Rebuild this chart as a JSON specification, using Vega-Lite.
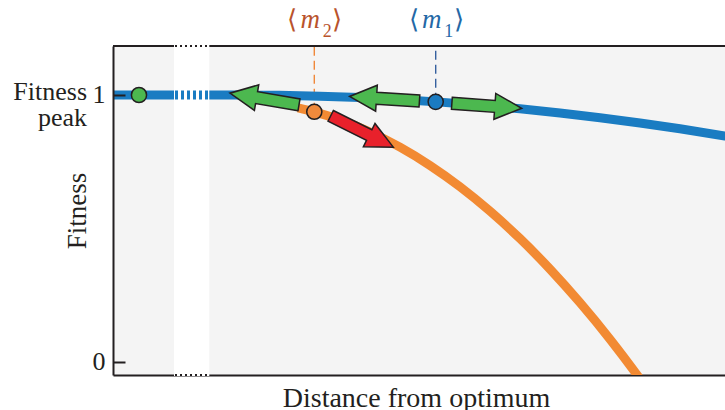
{
  "$schema": "https://vega.github.io/schema/vega-lite/v6.json",
  "width": 612,
  "height": 329,
  "autosize": {"type": "none"},
  "padding": {"left": 113, "top": 46, "right": 0, "bottom": 35},
  "background": "white",
  "config": {
    "view": {"fill": "#f4f4f4", "stroke": null},
    "font": "'Liberation Serif', 'Times New Roman', serif",
    "text": {"font": "'Liberation Serif', 'Times New Roman', serif"}
  },
  "datasets": {
    "blue": [
      {"d": 0, "f": 1}, {"d": 2.0, "f": 1}, {"d": 2.7124, "f": 0.9988},
      {"d": 3.3824, "f": 0.9955}, {"d": 4.0359, "f": 0.9902}, {"d": 4.6895, "f": 0.9828},
      {"d": 5.3431, "f": 0.9733}, {"d": 5.9967, "f": 0.9618}, {"d": 6.6503, "f": 0.9483},
      {"d": 7.3039, "f": 0.9326}, {"d": 7.9575, "f": 0.9149}, {"d": 8.6111, "f": 0.8952},
      {"d": 9.2647, "f": 0.8733}, {"d": 10.0, "f": 0.8463}, {"d": 10.3268, "f": 0.8335}
    ],
    "orange": [
      {"d": 3.0229, "f": 0.9517}, {"d": 3.2892, "f": 0.9371}, {"d": 3.7092, "f": 0.9071},
      {"d": 4.1993, "f": 0.8614}, {"d": 4.6895, "f": 0.8045}, {"d": 5.1797, "f": 0.736},
      {"d": 5.6699, "f": 0.6562}, {"d": 6.1601, "f": 0.5648}, {"d": 6.6503, "f": 0.4622},
      {"d": 7.1405, "f": 0.3479}, {"d": 7.6307, "f": 0.2221}, {"d": 8.1209, "f": 0.0854},
      {"d": 8.6111, "f": -0.0633}, {"d": 8.9379, "f": -0.1685}
    ],
    "band": [{"x1": 1.0131, "x2": 1.5572}],
    "bandline": [{"d": 1.0131, "f": 1}, {"d": 1.5572, "f": 1}],
    "guides": [
      {"name": "m2", "d": 3.2892, "f": 0.9371},
      {"name": "m1", "d": 5.2729, "f": 0.9745}
    ],
    "arrows": [
      {"kind": "green", "d": 2.4755, "f": 0.985, "angle": 189.6},
      {"kind": "green", "d": 4.4363, "f": 0.986, "angle": 183.7},
      {"kind": "green", "d": 6.1078, "f": 0.9596, "angle": 4.1},
      {"kind": "red", "d": 4.0686, "f": 0.8633, "angle": 26.6}
    ],
    "dots": [
      {"kind": "peak", "d": 0.4248, "f": 1},
      {"kind": "m2", "d": 3.2892, "f": 0.9371},
      {"kind": "m1", "d": 5.2729, "f": 0.9745}
    ],
    "labels": [
      {"name": "m2", "d": 3.2892, "sub": "2"},
      {"name": "m1", "d": 5.2729, "sub": "1"}
    ],
    "peak": [{"label": "Fitness\npeak", "d": -0.4248, "f": 1.0105}]
  },
  "resolve": {"scale": {"color": "independent"}},
  "layer": [
    {
      "data": {"name": "guides"},
      "mark": {"type": "rule", "strokeWidth": 1.4, "strokeDash": [9, 5]},
      "encoding": {
        "x": {
          "field": "d", "type": "quantitative",
          "scale": {"domain": [0, 10], "nice": false, "zero": false},
          "axis": {
            "orient": "bottom", "title": "Distance from optimum",
            "domain": true, "domainColor": "#231f20", "domainWidth": 2,
            "ticks": false, "labels": false, "grid": false,
            "titleFont": "'Liberation Serif', 'Times New Roman', serif", "titleFontSize": 28, "titleFontWeight": "normal",
            "titleColor": "#231f20", "titleX": 303, "titleY": 31, "titleBaseline": "alphabetic"
          }
        },
        "y": {
          "field": "f", "type": "quantitative",
          "scale": {"domain": [-0.0487, 1.1835], "nice": false, "zero": false},
          "axis": {
            "values": [0, 1], "format": "d", "title": "Fitness", "grid": false,
            "domain": true, "domainColor": "#231f20", "domainWidth": 2,
            "ticks": true, "tickSize": -12, "tickColor": "#231f20", "tickWidth": 2,
            "labelPadding": 20, "labelFont": "'Liberation Serif', 'Times New Roman', serif", "labelFontSize": 26, "labelColor": "#231f20",
            "titleFont": "'Liberation Serif', 'Times New Roman', serif", "titleFontSize": 27, "titleFontWeight": "normal",
            "titleColor": "#231f20", "titleX": -36, "titleY": 164.5, "titleBaseline": "middle", "titleAngle": -90,
            "zindex": 1
          }
        },
        "y2": {"datum": 1.1835},
        "color": {"field": "name", "type": "nominal", "scale": {"domain": ["m1", "m2"], "range": ["#35609f", "#f0883a"]}, "legend": null}
      }
    },
    {
      "data": {"name": "band"},
      "mark": {"type": "rule", "color": "#231f20", "strokeWidth": 2},
      "encoding": {"y": {"datum": 1.1835, "type": "quantitative"}}
    },
    {
      "data": {"name": "blue"},
      "mark": {"type": "line", "color": "#1a7cc2", "strokeWidth": 9, "interpolate": "monotone", "clip": true},
      "encoding": {
        "x": {"field": "d", "type": "quantitative"},
        "y": {"field": "f", "type": "quantitative"}
      }
    },
    {
      "data": {"name": "orange"},
      "mark": {"type": "line", "color": "#f28a33", "strokeWidth": 9, "interpolate": "monotone", "clip": true},
      "encoding": {
        "x": {"field": "d", "type": "quantitative"},
        "y": {"field": "f", "type": "quantitative"}
      }
    },
    {
      "data": {"name": "band"},
      "mark": {"type": "rect", "fill": "white", "stroke": "white", "strokeWidth": 2},
      "encoding": {
        "x": {"field": "x1", "type": "quantitative"},
        "x2": {"field": "x2"},
        "y": {"datum": -0.0487, "type": "quantitative"},
        "y2": {"datum": 1.1835}
      }
    },
    {
      "data": {"name": "bandline"},
      "mark": {"type": "line", "color": "#1a7cc2", "strokeWidth": 9, "strokeDash": [3, 3]},
      "encoding": {
        "x": {"field": "d", "type": "quantitative"},
        "y": {"field": "f", "type": "quantitative"}
      }
    },
    {
      "data": {"name": "band"},
      "mark": {"type": "rule", "color": "#231f20", "strokeWidth": 2, "strokeDash": [2, 3]},
      "encoding": {
        "x": {"field": "x1", "type": "quantitative"},
        "x2": {"field": "x2"},
        "y": {"datum": 1.1835, "type": "quantitative"}
      }
    },
    {
      "data": {"name": "band"},
      "mark": {"type": "rule", "color": "#231f20", "strokeWidth": 2, "strokeDash": [2, 3]},
      "encoding": {
        "x": {"field": "x1", "type": "quantitative"},
        "x2": {"field": "x2"},
        "y": {"datum": -0.0487, "type": "quantitative"}
      }
    },
    {
      "data": {"name": "arrows"},
      "mark": {
        "type": "point",
        "shape": "M -1 -0.171 L 0.23 -0.171 L 0.23 -0.371 L 1 0 L 0.23 0.371 L 0.23 0.171 L -1 0.171 Z",
        "filled": true, "size": 4900, "opacity": 1,
        "stroke": "#231f20", "strokeWidth": 1.5, "strokeJoin": "miter"
      },
      "encoding": {
        "x": {"field": "d", "type": "quantitative"},
        "y": {"field": "f", "type": "quantitative"},
        "angle": {"field": "angle", "type": "quantitative", "scale": null},
        "color": {"field": "kind", "type": "nominal", "scale": {"domain": ["green", "red"], "range": ["#4cb84f", "#e8212b"]}, "legend": null}
      }
    },
    {
      "data": {"name": "dots"},
      "mark": {"type": "point", "shape": "circle", "filled": true, "size": 230, "opacity": 1, "stroke": "#231f20", "strokeWidth": 1.5},
      "encoding": {
        "x": {"field": "d", "type": "quantitative"},
        "y": {"field": "f", "type": "quantitative"},
        "color": {"field": "kind", "type": "nominal", "scale": {"domain": ["peak", "m2", "m1"], "range": ["#4cb84f", "#f08a3c", "#1b7bc1"]}, "legend": null}
      }
    },
    {
      "data": {"name": "peak"},
      "mark": {"type": "text", "align": "right", "baseline": "middle", "lineBreak": "\n", "lineHeight": 26, "fontSize": 26, "color": "#231f20"},
      "encoding": {
        "x": {"field": "d", "type": "quantitative"},
        "y": {"field": "f", "type": "quantitative"},
        "text": {"field": "label", "type": "nominal"}
      }
    },
    {
      "data": {"name": "labels"},
      "mark": {"type": "text", "text": "⟨", "dx": -22, "align": "center", "baseline": "alphabetic", "fontSize": 26},
      "encoding": {
        "x": {"field": "d", "type": "quantitative"},
        "y": {"datum": 1.251, "type": "quantitative"},
        "color": {"field": "name", "type": "nominal", "scale": {"domain": ["m1", "m2"], "range": ["#2468a6", "#b9532c"]}, "legend": null}
      }
    },
    {
      "data": {"name": "labels"},
      "mark": {"type": "text", "text": "m", "dx": -4, "align": "center", "baseline": "alphabetic", "fontStyle": "italic", "fontSize": 27},
      "encoding": {
        "x": {"field": "d", "type": "quantitative"},
        "y": {"datum": 1.251, "type": "quantitative"},
        "color": {"field": "name", "type": "nominal", "scale": {"domain": ["m1", "m2"], "range": ["#2468a6", "#b9532c"]}, "legend": null}
      }
    },
    {
      "data": {"name": "labels"},
      "mark": {"type": "text", "dx": 13, "dy": 9, "align": "center", "baseline": "alphabetic", "fontSize": 18},
      "encoding": {
        "x": {"field": "d", "type": "quantitative"},
        "y": {"datum": 1.251, "type": "quantitative"},
        "text": {"field": "sub", "type": "nominal"},
        "color": {"field": "name", "type": "nominal", "scale": {"domain": ["m1", "m2"], "range": ["#2468a6", "#b9532c"]}, "legend": null}
      }
    },
    {
      "data": {"name": "labels"},
      "mark": {"type": "text", "text": "⟩", "dx": 23, "align": "center", "baseline": "alphabetic", "fontSize": 26},
      "encoding": {
        "x": {"field": "d", "type": "quantitative"},
        "y": {"datum": 1.251, "type": "quantitative"},
        "color": {"field": "name", "type": "nominal", "scale": {"domain": ["m1", "m2"], "range": ["#2468a6", "#b9532c"]}, "legend": null}
      }
    }
  ]
}
